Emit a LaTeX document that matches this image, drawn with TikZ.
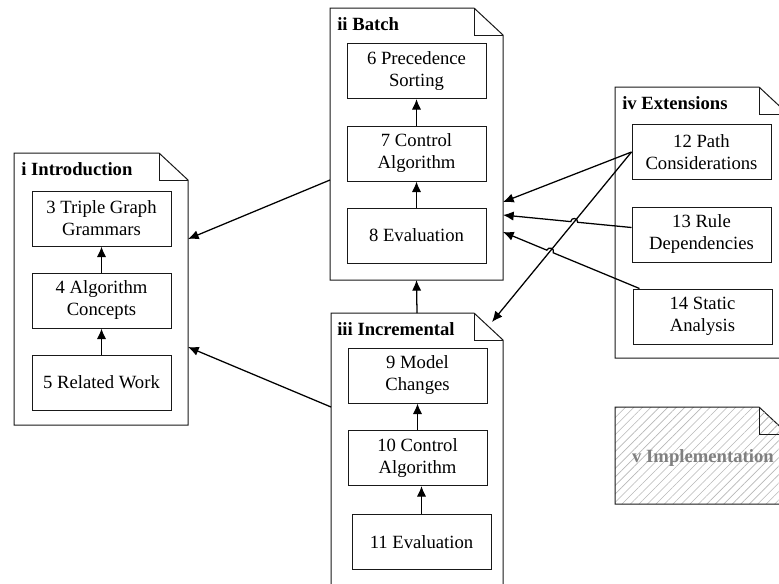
\documentclass[tikz,border=0pt]{standalone}
\usepackage{fontspec}
\setmainfont{Liberation Serif}
\usetikzlibrary{arrows.meta,calc,patterns.meta}

\tikzset{
  chapter/.style={draw=black!90, line width=0.75pt, minimum width=104.25pt, minimum height=41.25pt,
    inner sep=0pt, align=center, font=\fontsize{14}{16.5}\selectfont},
  partframe/.style={inner sep=0pt, outer sep=0pt},
  partline/.style={draw=black!90, line width=0.75pt, line join=miter},
  parttitle/.style={anchor=base west, inner sep=0pt, font=\bfseries\fontsize{14}{16.5}\selectfont},
  dep/.style={-{Latex[length=8pt,width=7pt]}, line width=0.95pt},
  hatched/.style={pattern={Lines[angle=45,distance=4.5pt,line width=0.45pt]}, pattern color=black!28},
}

% \partbox{name}{left}{top}{right}{bottom}{extra style}: dog-eared part frame
\newcommand\partbox[6]{%
  \node[partframe, minimum width={(#4-#2)*0.75pt}, minimum height={(#5-#3)*0.75pt}]
    (#1) at ({(#2+#4)/2},{(#3+#5)/2}) {};
  \draw[partline,#6] (#1.north west) -- ([xshift=-21.75pt]#1.north east)
    -- ([yshift=-20.25pt]#1.north east) -- (#1.south east) -- (#1.south west) -- cycle;
  \draw[partline,#6] ([xshift=-21.75pt]#1.north east) |- ([yshift=-20.25pt]#1.north east);
}

\begin{document}
\begin{tikzpicture}[x=0.75pt,y=-0.75pt]
\useasboundingbox (0,0) rectangle (779,583);
\fill[white] (0,0) rectangle (779,583);
\clip (0,0) rectangle (779,583);

% part frames
\partbox{pi}{14}{153}{188}{425}{}
\partbox{pii}{330}{8}{503}{280}{}
\partbox{piii}{331}{313}{503}{600}{}
\partbox{piv}{615}{87}{788}{358}{}
\partbox{pv}{615}{407}{788}{504}{hatched}

% part titles
\node[parttitle] (ti)   at (21,175)  {i Introduction};
\node[parttitle] (tii)  at (337,30)  {ii Batch};
\node[parttitle] (tiii) at (337,335) {iii Incremental};
\node[parttitle] (tiv)  at (622,109) {iv Extensions};
\node[font=\bfseries\fontsize{14}{16.5}\selectfont, text=black!50, inner sep=0pt]
  (tv) at (703,458) {v Implementation};

% chapters
\node[chapter] (b3)  at (101.5,218.5) {3 Triple Graph\\Grammars};
\node[chapter] (b4)  at (101.5,300.5) {4 Algorithm\\Concepts};
\node[chapter] (b5)  at (101.5,382.5) {5 Related Work};
\node[chapter] (b6)  at (416.5,71)    {6 Precedence\\Sorting};
\node[chapter] (b7)  at (416.5,153.5) {7 Control\\Algorithm};
\node[chapter] (b8)  at (416.5,235.5) {8 Evaluation};
\node[chapter] (b9)  at (417.5,375.5) {9 Model\\Changes};
\node[chapter] (b10) at (417.5,458)   {10 Control\\Algorithm};
\node[chapter] (b11) at (421.5,542)   {11 Evaluation};
\node[chapter] (b12) at (701.5,152)   {12 Path\\Considerations};
\node[chapter] (b13) at (701.5,234.5) {13 Rule\\Dependencies};
\node[chapter] (b14) at (702.5,316.5) {14 Static\\Analysis};

% dependencies inside the parts
\draw[dep] (b4) -- (b3);
\draw[dep] (b5) -- (b4);
\draw[dep] (b7) -- (b6);
\draw[dep] (b8) -- (b7);
\draw[dep] (b10) -- (b9);
\draw[dep] (b11.north) -- (b11.north |- b10.south);

% dependencies between parts
\draw[dep] (piii.north) -- (pii.south);
\draw[dep] ([shift={(0,36)}]pii.west) -- ([shift={(0,-50)}]pi.east);
\draw[dep] ([shift={(0,-49.5)}]piii.west) -- ([shift={(0,58)}]pi.east);

\coordinate (a12s) at (b12.west);
\coordinate (a12e) at ([shift={(0,58)}]pii.east);
\coordinate (a12f) at ([shift={(-11,9)}]piii.north east);
\coordinate (a13s) at ([shift={(0,-7)}]b13.west);
\coordinate (a13e) at ([shift={(0,71)}]pii.east);
\coordinate (a14s) at ([shift={(7,0)}]b14.north west);
\coordinate (a14e) at ([shift={(0,88)}]pii.east);
\coordinate (h13) at (intersection of a12s--a12f and a13s--a13e);
\coordinate (h14) at (intersection of a12s--a12f and a14s--a14e);

\draw[dep] (a12s) -- (a12e);
\draw[dep] (a12s) -- (a12f);
\draw[dep] (a13s) -- ($(h13)!2.6pt!(a13s)$) to[bend right=90,looseness=1.7]
  ($(h13)!2.6pt!(a13e)$) -- (a13e);
\draw[dep] (a14s) -- ($(h14)!2.6pt!(a14s)$) to[bend right=90,looseness=1.7]
  ($(h14)!2.6pt!(a14e)$) -- (a14e);
\end{tikzpicture}
\end{document}
